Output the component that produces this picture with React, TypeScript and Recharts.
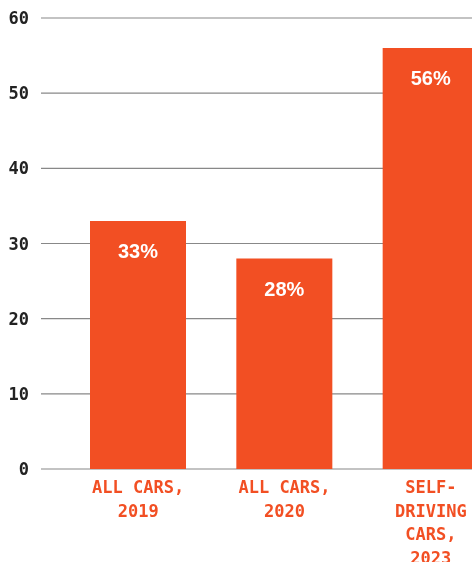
import { BarChart, Bar, XAxis, YAxis, CartesianGrid, LabelList } from "recharts";

const categories = ["ALL CARS,\n2019", "ALL CARS,\n2020", "SELF-\nDRIVING\nCARS,\n2023"];
const shares = [33, 28, 56];
const yTicks = [0, 10, 20, 30, 40, 50, 60];

const data = categories.map((c, i) => ({ name: c, value: shares[i] }));

const ORANGE = "#F24F23";
const MONO = "'DejaVu Sans Mono', 'Liberation Mono', monospace";

function CategoryTick(props: any) {
  const { x, y, payload } = props;
  const lines = String(payload.value).split("\n");
  return (
    <text
      x={x}
      y={y + 16}
      textAnchor="middle"
      fill={ORANGE}
      fontFamily={MONO}
      fontWeight="bold"
      fontSize={17}
    >
      {lines.map((l, i) => (
        <tspan key={i} x={x} dy={i === 0 ? 0 : 23.5}>
          {l}
        </tspan>
      ))}
    </text>
  );
}

function PctLabel(props: any) {
  const { x, y, width, value } = props;
  return (
    <text
      x={x + width / 2}
      y={y + 30}
      textAnchor="middle"
      dominantBaseline="central"
      fill="#fff"
      fontFamily="'Liberation Sans', Arial, sans-serif"
      fontWeight="bold"
      fontSize={20}
    >
      {value}%
    </text>
  );
}

export default function App() {
  return (
    <div style={{ position: "fixed", left: 0, top: 0, width: 472, height: 562, overflow: "hidden" }}>
      <BarChart
        width={528}
        height={562}
        data={data}
        margin={{ top: 18, right: 0, left: 8, bottom: 0 }}
        barSize={96}
      >
        <CartesianGrid vertical={false} stroke="#888" strokeWidth={1.2} />
        <XAxis
          dataKey="name"
          height={93}
          axisLine={false}
          tickLine={false}
          interval={0}
          padding={{ left: 24, right: 24 }}
          tick={<CategoryTick />}
        />
        <YAxis
          domain={[0, 60]}
          ticks={yTicks}
          width={33}
          axisLine={false}
          tickLine={false}
          tickSize={0}
          tickMargin={12}
          tick={{ fill: "#222", fontFamily: MONO, fontWeight: "bold", fontSize: 17 }}
        />
        <Bar dataKey="value" fill={ORANGE} isAnimationActive={false}>
          <LabelList dataKey="value" content={<PctLabel />} />
        </Bar>
      </BarChart>
    </div>
  );
}
